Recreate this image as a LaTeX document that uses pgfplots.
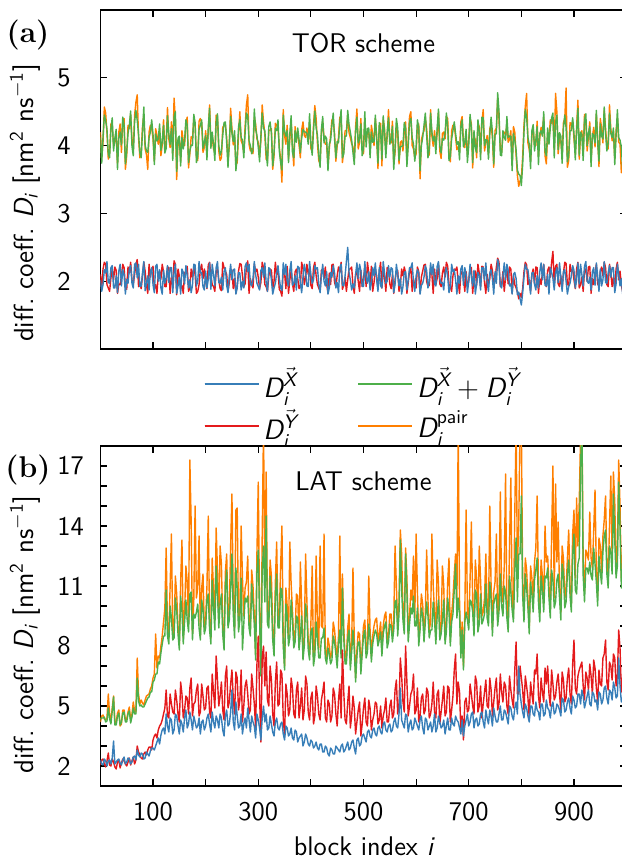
\documentclass[border=0pt]{standalone}
\usepackage{fontspec}
\usepackage{amsmath}
\usepackage{pgfplots}
\pgfplotsset{compat=1.18}
\usepackage{pgfplotstable}
\renewcommand{\familydefault}{\sfdefault}
\definecolor{cX}{HTML}{377EB8}
\definecolor{cY}{HTML}{E41A1C}
\definecolor{cS}{HTML}{4DAF4A}
\definecolor{cP}{HTML}{FF7F00}
\newcommand{\si}[1]{\text{\sffamily\itshape #1}}
\newcommand{\fs}{\fontsize{13.5}{16}\selectfont\sffamily}
\newcommand{\fl}{\fontsize{13.8}{16.5}\selectfont\sffamily}
\newcommand{\fg}{\fontsize{14}{17}\selectfont\sffamily}
\newcommand{\fb}{\fontsize{15}{18}\selectfont\rmfamily\bfseries}

\pgfplotstableread{
x X Y S P
0 2.02 2.10 4.12 4.20
2.5 1.85 1.89 3.74 3.82
5 1.95 2.18 4.13 4.05
7.5 2.17 2.28 4.45 4.57
10 2.12 2.25 4.37 4.48
12.5 2.29 1.95 4.24 4.19
15 1.98 1.90 3.88 3.80
17.5 1.97 1.85 3.82 3.90
20 2.20 2.05 4.25 4.32
22.5 2.23 2.18 4.41 4.29
25 1.90 2.02 3.92 4.00
27.5 1.90 2.21 4.11 4.06
30 2.08 2.16 4.24 4.15
32.5 1.83 1.82 3.65 3.73
35 2.15 1.96 4.11 4.20
37.5 2.25 1.95 4.20 4.32
40 1.93 2.08 4.01 3.90
42.5 2.17 2.25 4.42 4.37
45 2.10 2.20 4.30 4.40
47.5 1.81 1.92 3.73 3.65
50 2.03 1.88 3.91 3.85
52.5 1.97 2.21 4.18 4.30
55 2.18 2.12 4.30 4.25
57.5 2.23 2.28 4.51 4.46
60 1.97 2.02 3.99 4.08
62.5 1.90 1.95 3.85 3.93
65 2.25 2.10 4.35 4.45
67.5 2.27 2.25 4.52 4.64
70 2.05 2.32 4.37 4.75
72.5 2.25 1.92 4.17 4.12
75 1.92 1.98 3.90 3.82
77.5 1.93 1.89 3.82 3.90
80 2.12 2.08 4.20 4.28
82.5 2.29 2.28 4.57 4.45
85 1.86 2.15 4.01 3.95
87.5 1.97 1.95 3.92 3.87
90 2.08 1.82 3.90 3.65
92.5 1.87 2.25 4.12 4.20
95 2.14 2.06 4.20 4.30
97.5 2.20 2.18 4.38 4.26
100 1.95 2.22 4.17 4.10
102.5 1.83 1.89 3.72 3.77
105 2.22 1.95 4.17 4.25
107.5 2.25 1.82 4.07 4.15
110 2.00 2.10 4.10 4.02
112.5 2.17 2.15 4.32 4.20
115 1.90 2.03 3.93 3.85
117.5 1.81 2.25 4.06 4.01
120 2.16 2.14 4.30 4.38
122.5 1.97 1.92 3.89 3.97
125 2.04 1.92 3.96 4.05
127.5 2.23 2.21 4.44 4.56
130 1.98 2.20 4.18 4.10
132.5 2.20 1.82 4.02 3.97
135 2.20 2.05 4.25 4.35
137.5 1.83 1.95 3.78 3.86
140 2.12 2.30 4.42 4.70
142.5 2.25 2.25 4.50 4.38
145 1.82 1.80 3.62 3.50
147.5 1.93 2.18 4.11 4.06
150 2.06 2.08 4.14 4.08
152.5 1.81 1.89 3.70 3.78
155 2.18 1.94 4.12 4.22
157.5 2.13 1.82 3.95 4.07
160 1.96 2.12 4.08 4.00
162.5 2.23 2.15 4.38 4.33
165 2.08 2.22 4.30 4.42
167.5 1.90 1.85 3.75 3.67
170 2.02 1.90 3.92 3.88
172.5 1.83 2.18 4.01 4.13
175 1.94 2.06 4.00 4.10
177.5 2.25 2.21 4.46 4.41
180 2.24 2.10 4.34 4.30
182.5 1.93 1.82 3.75 3.83
185 2.00 1.85 3.85 3.78
187.5 2.29 1.95 4.24 4.36
190 2.12 2.18 4.30 4.40
192.5 2.13 2.25 4.38 4.33
195 1.92 2.04 3.96 3.90
197.5 1.87 2.18 4.05 3.97
200 2.15 2.00 4.15 4.22
202.5 1.90 1.89 3.79 3.91
205 2.03 2.24 4.27 4.20
207.5 2.27 2.28 4.55 4.60
210 1.88 2.08 3.96 4.05
212.5 2.25 1.95 4.20 4.12
215 2.10 1.92 4.02 3.95
217.5 1.93 1.85 3.78 3.90
220 2.20 2.14 4.34 4.45
222.5 2.29 2.18 4.47 4.42
225 1.98 2.02 4.00 3.92
227.5 1.97 1.89 3.86 3.78
230 2.06 1.86 3.92 3.82
232.5 1.87 2.28 4.15 4.27
235 2.14 2.20 4.34 4.30
237.5 2.20 2.15 4.35 4.30
240 1.94 2.10 4.04 4.12
242.5 1.83 1.85 3.68 3.76
245 2.08 1.98 4.06 4.00
247.5 2.25 2.18 4.43 4.55
250 2.02 2.16 4.18 4.25
252.5 2.17 1.89 4.06 4.01
255 2.18 2.04 4.22 4.15
257.5 1.81 1.82 3.63 3.71
260 1.90 1.94 3.84 3.75
262.5 2.13 2.15 4.28 4.16
265 2.12 2.26 4.38 4.50
267.5 1.87 2.25 4.12 4.07
270 2.00 2.08 4.08 4.02
272.5 1.90 1.92 3.82 3.90
275 2.22 1.96 4.18 4.28
277.5 2.27 2.21 4.48 4.60
280 2.14 2.30 4.44 4.75
282.5 2.25 1.82 4.07 4.02
285 1.96 2.04 4.00 3.92
287.5 1.93 1.95 3.88 3.96
290 2.04 1.90 3.94 3.88
292.5 2.29 2.25 4.54 4.42
295 2.10 2.14 4.24 4.32
297.5 1.97 2.18 4.15 4.10
300 1.92 2.06 3.98 4.05
302.5 1.87 1.89 3.76 3.84
305 2.16 1.98 4.14 4.08
307.5 2.20 2.28 4.48 4.60
310 2.06 2.20 4.26 4.35
312.5 2.27 1.95 4.22 4.17
315 1.98 1.92 3.90 3.80
317.5 1.85 1.85 3.70 3.78
320 2.20 2.08 4.28 4.22
322.5 2.17 2.18 4.35 4.23
325 2.02 2.16 4.18 4.25
327.5 1.81 1.89 3.70 3.65
330 1.90 2.00 3.90 3.85
332.5 1.97 2.28 4.25 4.33
335 2.12 2.10 4.22 4.30
337.5 2.23 2.15 4.38 4.26
340 2.04 1.88 3.92 3.98
342.5 1.90 1.85 3.75 3.80
345 1.86 1.78 3.64 3.46
347.5 2.27 2.18 4.45 4.53
350 2.10 2.12 4.22 4.15
352.5 2.25 1.89 4.14 4.02
355 2.00 2.22 4.22 4.30
357.5 1.93 1.82 3.75 3.80
360 2.16 2.02 4.18 4.10
362.5 2.29 2.15 4.44 4.36
365 1.94 1.96 3.90 3.98
367.5 1.97 1.85 3.82 3.70
370 2.08 2.14 4.22 4.28
372.5 1.87 2.18 4.05 4.10
375 2.22 2.04 4.26 4.20
377.5 2.20 1.89 4.09 4.01
380 1.98 1.92 3.90 3.82
382.5 1.83 2.28 4.11 4.23
385 2.06 2.18 4.24 4.35
387.5 2.25 1.95 4.20 4.15
390 2.14 2.06 4.20 4.12
392.5 1.93 2.25 4.18 4.26
395 1.92 2.10 4.02 4.08
397.5 2.29 2.18 4.47 4.35
400 2.10 1.94 4.04 3.96
402.5 1.97 1.89 3.86 3.91
405 2.02 2.20 4.22 4.30
407.5 2.23 2.28 4.51 4.59
410 2.18 2.08 4.26 4.40
412.5 2.20 1.95 4.15 4.03
415 1.96 1.90 3.86 3.78
417.5 1.83 1.85 3.68 3.73
420 2.08 2.16 4.24 4.18
422.5 2.25 2.18 4.43 4.35
425 2.00 2.04 4.04 4.12
427.5 1.93 2.21 4.14 4.02
430 2.14 1.96 4.10 4.02
432.5 1.81 1.82 3.63 3.68
435 1.90 2.12 4.02 3.95
437.5 2.13 1.95 4.08 4.16
440 2.06 2.24 4.30 4.38
442.5 2.23 2.25 4.48 4.36
445 2.12 1.98 4.10 4.18
447.5 1.90 1.92 3.82 3.77
450 1.98 2.08 4.06 4.00
452.5 1.83 2.21 4.04 4.12
455 2.20 2.14 4.34 4.42
457.5 2.25 2.28 4.53 4.41
460 1.94 1.88 3.82 3.75
462.5 1.93 1.95 3.88 3.93
465 2.08 2.06 4.14 4.22
467.5 2.29 1.85 4.14 4.22
470 2.50 2.02 4.52 4.45
472.5 2.13 2.18 4.31 4.19
475 2.02 2.18 4.20 4.12
477.5 1.87 2.21 4.08 4.03
480 1.96 1.94 3.90 3.98
482.5 1.90 1.82 3.72 3.80
485 2.10 2.10 4.20 4.28
487.5 2.27 2.15 4.42 4.54
490 2.04 2.00 4.04 3.95
492.5 2.25 1.85 4.10 4.05
495 2.16 2.16 4.32 4.40
497.5 1.93 1.92 3.85 3.93
500 1.92 2.04 3.96 3.88
502.5 2.29 2.21 4.50 4.38
505 2.06 1.92 3.98 4.06
507.5 1.97 2.28 4.25 4.20
510 2.14 2.12 4.26 4.20
512.5 1.87 1.95 3.82 3.90
515 1.98 2.22 4.20 4.30
517.5 2.20 1.85 4.05 4.17
520 2.08 1.98 4.06 4.00
522.5 2.27 2.18 4.45 4.40
525 2.02 2.08 4.10 4.15
527.5 1.85 1.89 3.74 3.66
530 2.20 2.14 4.34 4.28
532.5 1.93 2.28 4.21 4.33
535 1.90 1.90 3.80 3.70
537.5 2.29 2.15 4.44 4.39
540 2.12 2.06 4.18 4.25
542.5 1.97 1.85 3.82 3.90
545 2.00 2.20 4.20 4.12
547.5 2.23 2.18 4.41 4.53
550 2.06 1.96 4.02 4.10
552.5 2.20 1.89 4.09 4.04
555 2.18 2.10 4.28 4.36
557.5 1.83 1.82 3.65 3.73
560 1.96 2.02 3.98 3.90
562.5 2.25 2.15 4.40 4.28
565 2.10 2.16 4.26 4.20
567.5 1.93 1.85 3.78 3.73
570 2.04 1.94 3.98 4.05
572.5 1.81 2.18 3.99 4.07
575 1.92 2.08 4.00 3.92
577.5 2.13 2.21 4.34 4.22
580 2.14 2.12 4.26 4.35
582.5 1.87 1.82 3.69 3.74
585 2.02 1.98 4.00 4.08
587.5 2.20 2.15 4.35 4.43
590 2.20 2.20 4.40 4.50
592.5 2.27 1.85 4.12 4.00
595 1.98 2.04 4.02 3.95
597.5 1.85 1.92 3.77 3.82
600 2.08 1.90 3.98 3.88
602.5 2.17 2.21 4.38 4.30
605 2.12 2.14 4.26 4.32
607.5 1.81 1.82 3.63 3.51
610 1.94 2.06 4.00 4.08
612.5 1.97 2.15 4.12 4.17
615 2.06 2.24 4.30 4.22
617.5 2.23 2.25 4.48 4.40
620 2.16 2.00 4.16 4.25
622.5 1.90 1.92 3.82 3.94
625 2.00 1.94 3.94 3.86
627.5 2.27 2.21 4.48 4.53
630 2.10 2.10 4.20 4.14
632.5 2.25 1.82 4.07 3.99
635 1.96 2.18 4.14 4.22
637.5 1.93 1.95 3.88 4.00
640 2.22 2.04 4.26 4.18
642.5 2.29 2.25 4.54 4.49
645 2.04 1.96 4.00 3.92
647.5 1.97 1.92 3.89 3.81
650 1.98 2.12 4.10 4.18
652.5 1.87 2.21 4.08 4.20
655 2.12 2.06 4.18 4.10
657.5 2.20 2.28 4.48 4.43
660 2.06 2.22 4.28 4.40
662.5 1.83 1.95 3.78 3.86
665 1.92 1.92 3.84 3.76
667.5 2.25 1.85 4.10 4.22
670 2.14 2.08 4.22 4.30
672.5 2.17 2.18 4.35 4.30
675 2.02 2.16 4.18 4.12
677.5 1.81 2.21 4.02 3.94
680 2.08 1.98 4.06 3.98
682.5 1.97 1.82 3.79 3.91
685 2.18 2.10 4.28 4.35
687.5 2.23 2.15 4.38 4.43
690 1.94 2.04 3.98 4.05
692.5 2.20 1.85 4.05 3.97
695 2.10 2.14 4.24 4.18
697.5 1.83 1.92 3.75 3.87
700 2.00 2.00 4.00 4.08
702.5 2.25 2.21 4.46 4.41
705 2.06 2.20 4.26 4.32
707.5 1.93 1.82 3.75 3.67
710 2.16 2.06 4.22 4.15
712.5 1.81 2.15 3.96 4.08
715 1.96 1.94 3.90 3.82
717.5 2.13 2.25 4.38 4.33
720 2.08 2.12 4.20 4.28
722.5 1.87 1.92 3.79 3.87
725 2.20 2.22 4.42 4.35
727.5 2.20 2.21 4.41 4.53
730 2.02 1.98 4.00 3.92
732.5 2.27 1.82 4.09 4.04
735 1.98 2.10 4.08 4.15
737.5 1.85 1.95 3.80 3.88
740 2.12 2.04 4.16 4.25
742.5 2.17 2.25 4.42 4.30
745 2.04 2.16 4.20 4.12
747.5 1.81 1.92 3.73 3.68
750 2.14 2.02 4.16 4.22
752.5 1.97 2.21 4.18 4.26
755 2.32 2.34 4.78 4.70
757.5 2.23 2.28 4.51 4.39
760 1.94 1.92 3.86 3.95
762.5 1.90 1.95 3.85 3.90
765 2.08 2.14 4.22 4.15
767.5 2.27 1.85 4.12 4.20
770 2.02 2.06 4.08 4.16
772.5 2.25 2.18 4.43 4.31
775 2.16 1.96 4.12 4.05
777.5 1.93 2.21 4.14 4.09
780 1.96 2.18 4.14 4.22
782.5 1.81 1.82 3.63 3.71
785 2.10 2.08 4.18 4.28
787.5 2.13 1.95 4.08 4.20
790 2.04 1.90 3.94 3.86
792.5 1.80 1.84 3.64 3.56
795 1.84 1.74 3.58 3.40
797.5 1.74 1.82 3.56 3.48
800 1.65 1.76 3.41 3.52
802.5 1.83 1.89 3.72 3.84
805 2.06 2.14 4.20 4.30
807.5 2.25 2.28 4.53 4.58
810 2.18 2.24 4.42 4.77
812.5 2.17 1.95 4.12 4.04
815 2.00 2.02 4.02 3.94
817.5 1.81 1.85 3.66 3.78
820 2.12 2.10 4.22 4.14
822.5 2.13 2.18 4.31 4.26
825 1.96 1.96 3.92 4.00
827.5 1.87 2.21 4.08 4.00
830 2.08 2.20 4.28 4.36
832.5 1.90 1.82 3.72 3.84
835 2.14 2.04 4.18 4.12
837.5 2.27 1.95 4.22 4.27
840 2.02 2.12 4.14 4.22
842.5 2.25 2.25 4.50 4.42
845 1.94 1.98 3.92 3.85
847.5 1.93 1.92 3.85 3.73
850 2.10 2.16 4.26 4.20
852.5 1.81 2.21 4.02 4.07
855 2.20 2.06 4.26 4.38
857.5 2.13 2.28 4.41 4.33
860 2.04 2.44 4.48 4.40
862.5 1.87 1.95 3.82 3.94
865 2.12 2.22 4.34 4.77
867.5 2.20 2.25 4.45 4.50
870 1.98 1.96 3.94 3.88
872.5 2.27 1.92 4.19 4.11
875 2.06 2.08 4.14 4.06
877.5 1.85 1.89 3.74 3.86
880 2.14 2.12 4.26 4.34
882.5 2.17 2.28 4.45 4.40
885 2.00 2.26 4.26 4.85
887.5 1.81 1.95 3.76 3.68
890 1.92 1.94 3.86 3.78
892.5 1.97 2.25 4.22 4.34
895 2.08 2.14 4.22 4.30
897.5 2.23 2.18 4.41 4.36
900 2.16 2.02 4.18 4.10
902.5 1.90 1.89 3.79 3.87
905 2.02 2.18 4.20 4.28
907.5 2.27 2.28 4.55 4.67
910 1.96 1.90 3.86 3.80
912.5 2.25 1.95 4.20 4.15
915 2.10 2.06 4.16 4.22
917.5 1.93 1.85 3.78 3.86
920 2.22 2.16 4.38 4.46
922.5 2.29 2.18 4.47 4.35
925 2.00 2.00 4.00 3.92
927.5 1.97 2.21 4.18 4.13
930 2.06 2.22 4.28 4.35
932.5 1.87 1.82 3.69 3.77
935 2.14 2.04 4.18 4.12
937.5 2.20 1.95 4.15 4.27
940 1.94 2.10 4.04 3.98
942.5 2.27 2.25 4.52 4.47
945 2.08 1.96 4.04 4.12
947.5 1.85 1.92 3.77 3.69
950 2.18 2.14 4.32 4.40
952.5 1.93 2.21 4.14 4.26
955 2.02 2.08 4.10 4.04
957.5 2.29 2.28 4.57 4.52
960 1.98 2.20 4.18 4.26
962.5 1.97 1.95 3.92 4.00
965 2.12 1.92 4.04 3.95
967.5 2.23 2.25 4.48 4.60
970 2.06 2.12 4.18 4.25
972.5 2.20 1.92 4.12 4.07
975 2.20 2.06 4.26 4.20
977.5 1.83 1.89 3.72 3.80
980 1.96 2.18 4.14 4.22
982.5 2.25 2.28 4.53 4.41
985 2.10 2.02 4.12 4.05
987.5 1.93 2.15 4.08 4.03
990 2.04 1.94 3.98 3.60
992.5 1.81 1.85 3.66 3.74
995 2.14 2.14 4.28 4.36
997.5 2.13 1.92 4.05 4.17
1000 2.00 2.10 4.10 3.70
}\tabA

\pgfplotstableread{
x X Y S P
0 2.30 2.05 4.35 4.20
2.5 2.10 2.30 4.40 4.50
5 2.05 2.35 4.40 4.55
7.5 2.35 2.10 4.45 4.35
10 2.25 1.95 4.20 4.30
12.5 2.00 2.25 4.25 4.40
15 2.25 2.65 4.90 5.60
17.5 2.30 2.05 4.35 4.60
20 2.10 2.00 4.10 4.25
22.5 2.40 2.35 4.75 4.90
25 3.25 2.20 5.45 5.50
27.5 2.10 1.95 4.05 4.20
30 2.20 1.85 4.05 4.15
32.5 2.30 2.20 4.50 4.65
35 2.35 2.30 4.65 4.80
37.5 2.15 1.90 4.05 4.00
40 2.05 2.15 4.20 4.10
42.5 2.30 2.35 4.65 4.80
45 2.45 2.25 4.70 4.80
47.5 2.10 2.10 4.20 4.30
50 2.20 2.00 4.20 4.35
52.5 2.40 2.20 4.60 4.70
55 2.35 2.40 4.75 4.95
57.5 2.10 2.05 4.15 4.30
60 2.20 2.25 4.45 4.60
62.5 2.45 2.45 4.90 5.20
65 2.50 2.10 4.60 4.75
67.5 2.30 2.30 4.60 4.70
70 2.80 3.00 6.40 7.40
72.5 2.55 2.70 5.25 5.60
75 2.45 2.55 5.00 5.10
77.5 2.65 2.40 5.05 5.30
80 2.60 2.35 4.95 5.15
82.5 2.35 2.60 4.95 5.05
85 2.40 2.70 5.10 5.30
87.5 2.70 2.55 5.25 5.50
90 2.60 2.80 5.40 5.55
92.5 2.50 2.95 5.45 5.60
95 2.75 2.95 5.70 5.85
97.5 2.90 2.80 5.70 6.00
100 2.90 3.30 6.20 6.40
102.5 2.80 3.50 6.30 6.60
105 3.00 3.60 6.60 8.60
107.5 3.20 3.40 6.60 6.90
110 3.40 3.80 7.20 7.50
112.5 3.10 4.00 7.10 7.40
115 3.55 4.10 7.65 8.00
117.5 3.80 4.30 8.10 8.50
120 3.90 4.60 8.50 9.20
122.5 3.60 4.90 8.50 9.90
125 4.60 5.80 10.80 12.90
127.5 4.00 4.50 8.50 8.90
130 3.70 4.40 8.10 8.40
132.5 4.40 5.60 10.00 11.00
135 4.30 5.10 9.40 13.60
137.5 3.60 4.70 8.30 8.60
140 3.80 4.60 8.40 8.70
142.5 4.60 5.80 10.40 11.50
145 4.50 5.30 9.80 10.60
147.5 4.00 4.60 8.60 9.00
150 3.60 4.20 7.80 8.10
152.5 4.30 6.20 10.50 11.20
155 4.10 5.60 9.70 13.30
157.5 3.70 4.40 8.10 8.40
160 4.40 4.80 9.20 9.60
162.5 4.80 5.50 10.30 12.00
165 3.90 5.40 9.30 11.20
167.5 4.10 4.60 8.70 9.10
170 4.70 5.90 10.60 17.30
172.5 4.30 6.40 10.70 14.20
175 3.80 4.50 8.30 8.60
177.5 4.50 5.10 9.60 10.30
180 4.20 5.20 9.40 15.00
182.5 3.90 5.80 9.70 10.40
185 4.00 6.10 10.10 10.90
187.5 4.40 4.50 8.90 13.50
190 3.60 4.70 8.30 8.50
192.5 4.20 6.10 10.30 10.90
195 4.30 5.50 9.80 11.60
197.5 3.80 4.80 8.60 8.90
200 4.00 4.90 8.90 9.30
202.5 4.40 5.90 10.30 11.00
205 4.60 6.00 10.60 14.50
207.5 4.10 4.70 8.80 9.20
210 3.70 4.40 8.10 8.40
212.5 4.70 6.60 11.30 12.40
215 4.20 5.70 9.90 10.80
217.5 3.90 4.90 8.80 9.30
220 4.50 7.50 12.00 13.90
222.5 4.30 6.30 10.60 11.80
225 3.90 5.00 8.90 9.20
227.5 4.60 5.50 10.10 13.00
230 4.40 6.20 10.60 12.10
232.5 3.80 4.80 8.60 9.00
235 3.50 4.30 7.80 8.00
237.5 4.50 6.50 11.00 11.70
240 4.80 7.00 11.80 12.60
242.5 4.00 4.90 8.90 9.30
245 4.10 5.20 9.30 9.80
247.5 4.70 6.10 10.80 13.00
250 5.80 6.80 12.60 15.60
252.5 4.20 5.40 9.60 10.20
255 3.80 4.60 8.40 8.90
257.5 5.20 6.70 11.90 14.80
260 4.50 6.40 10.90 14.90
262.5 3.90 4.80 8.70 9.10
265 4.00 5.30 9.30 9.70
267.5 4.60 6.80 11.40 14.00
270 3.60 4.20 7.80 11.40
272.5 4.10 5.00 9.10 9.50
275 4.40 6.00 10.40 10.90
277.5 3.90 6.30 10.20 11.20
280 4.90 5.60 10.50 12.50
282.5 4.30 4.60 8.90 9.30
285 3.70 4.80 8.50 8.80
287.5 4.50 6.60 11.10 11.80
290 4.20 5.90 10.10 11.00
292.5 4.00 5.10 9.10 9.50
295 3.40 3.90 7.30 7.60
297.5 4.60 7.10 11.70 12.70
300 4.30 8.50 12.80 16.20
302.5 3.90 5.50 9.40 9.80
305 3.30 3.20 6.50 6.80
307.5 4.40 7.40 11.80 13.50
310 5.00 8.00 13.00 19.00
312.5 4.20 6.00 10.20 11.00
315 4.60 7.70 14.50 16.70
317.5 3.80 5.30 9.10 9.60
320 3.90 5.00 8.90 9.30
322.5 4.50 7.00 11.50 12.30
325 4.10 6.30 10.40 11.50
327.5 3.70 4.60 8.30 8.70
330 3.50 4.00 7.50 7.80
332.5 4.20 6.20 10.40 11.20
335 4.40 7.20 11.60 13.20
337.5 3.90 5.00 8.90 9.30
340 3.80 5.10 8.90 9.40
342.5 4.10 6.80 10.90 12.00
345 4.20 6.60 10.80 14.00
347.5 3.60 4.40 8.00 8.30
350 3.30 3.50 6.80 7.00
352.5 4.00 6.10 10.10 10.90
355 3.90 5.60 9.50 10.00
357.5 3.50 4.50 8.00 8.40
360 3.60 4.80 8.40 13.20
362.5 3.90 6.40 10.30 11.10
365 3.40 5.90 9.30 9.80
367.5 3.30 4.60 7.90 8.20
370 3.80 4.40 8.20 8.60
372.5 3.70 5.80 9.50 10.60
375 3.20 6.20 9.40 10.50
377.5 3.40 4.40 7.80 8.10
380 3.50 5.00 8.50 12.20
382.5 3.60 5.90 9.50 10.00
385 3.00 4.30 7.30 7.60
387.5 3.20 4.80 8.00 8.40
390 3.60 6.50 10.10 12.60
392.5 3.40 6.10 9.50 10.20
395 3.10 4.70 7.80 8.20
397.5 3.00 4.30 7.30 7.60
400 3.30 5.40 8.70 9.10
402.5 3.20 5.70 8.90 12.00
405 2.90 4.10 7.00 7.30
407.5 3.00 4.50 7.50 7.90
410 3.20 6.00 9.20 12.50
412.5 2.90 5.50 8.40 9.00
415 2.80 4.60 7.40 7.80
417.5 3.10 4.30 7.40 13.00
420 3.10 5.30 8.40 9.00
422.5 2.70 5.70 8.40 8.90
425 2.70 6.20 8.90 13.60
427.5 3.00 4.40 7.40 7.70
430 2.90 4.20 7.10 7.40
432.5 2.60 5.30 7.90 8.40
435 2.50 5.10 7.60 8.00
437.5 2.90 4.20 7.10 7.40
440 2.80 4.50 7.30 7.70
442.5 2.60 5.90 8.50 9.20
445 2.60 5.60 8.20 8.80
447.5 3.00 4.60 7.60 8.00
450 2.90 4.00 6.90 7.30
452.5 2.80 5.30 8.10 8.50
455 2.70 6.10 8.80 13.50
457.5 3.00 4.40 7.40 7.70
460 3.10 7.80 10.90 11.60
462.5 2.70 5.70 8.40 8.90
465 2.80 4.30 7.10 7.50
467.5 3.00 4.10 7.10 7.40
470 3.20 5.20 8.40 8.90
472.5 2.80 6.00 8.80 9.60
475 2.90 3.90 6.80 7.10
477.5 3.20 4.50 7.70 8.10
480 3.30 5.50 8.80 11.90
482.5 2.90 4.90 7.80 8.30
485 2.60 3.60 6.20 6.40
487.5 3.30 4.20 7.50 7.80
490 3.40 4.80 8.20 8.70
492.5 3.00 5.20 8.20 8.60
495 3.10 3.50 6.60 6.90
497.5 3.50 4.10 7.60 7.90
500 3.60 4.90 8.50 9.00
502.5 3.40 5.40 8.80 9.30
505 3.20 4.20 7.40 7.80
507.5 3.70 4.00 7.70 8.00
510 3.80 5.30 9.10 11.50
512.5 3.50 4.90 8.40 8.80
515 3.40 3.80 7.20 7.50
517.5 3.80 4.30 8.10 8.50
520 3.90 4.60 8.50 9.00
522.5 3.60 5.20 8.80 9.30
525 3.50 5.10 8.60 9.40
527.5 3.90 4.10 8.00 8.30
530 4.00 4.30 8.30 8.60
532.5 3.70 5.00 8.70 9.20
535 3.60 3.90 7.50 7.80
537.5 4.10 4.50 8.60 9.00
540 4.20 4.80 9.00 9.50
542.5 3.80 5.40 9.20 9.70
545 3.70 4.20 7.90 8.30
547.5 4.00 4.20 8.20 8.50
550 4.10 5.00 9.10 9.60
552.5 3.70 5.30 9.00 9.60
555 3.80 4.40 8.20 8.50
557.5 4.20 4.60 8.80 9.20
560 4.40 5.80 10.20 13.00
562.5 4.00 6.30 10.30 11.00
565 3.90 4.60 8.50 9.00
567.5 4.60 5.00 9.60 10.20
570 5.90 7.40 13.30 13.80
572.5 4.30 6.50 10.80 12.60
575 4.10 5.20 9.30 9.80
577.5 3.90 4.70 8.60 9.00
580 4.60 8.00 12.60 12.90
582.5 4.50 6.20 10.70 11.40
585 3.70 4.50 8.20 8.60
587.5 4.10 5.00 9.10 9.50
590 4.30 5.60 9.90 10.80
592.5 3.80 5.80 9.60 10.30
595 3.90 6.60 10.50 12.50
597.5 4.40 4.60 9.00 9.40
600 4.20 4.80 9.00 13.60
602.5 4.00 5.90 9.90 10.70
605 3.80 4.20 8.00 8.40
607.5 4.30 4.50 8.80 9.20
610 4.50 5.40 9.90 10.60
612.5 3.90 5.60 9.50 10.10
615 3.60 4.60 8.20 8.50
617.5 4.40 4.80 9.20 9.60
620 4.30 5.90 10.20 12.80
622.5 3.80 5.70 9.50 10.30
625 4.00 4.40 8.40 8.80
627.5 4.20 4.60 8.80 9.20
630 3.70 5.10 8.80 13.60
632.5 4.00 6.20 10.20 11.00
635 4.60 4.70 9.30 9.70
637.5 3.70 4.40 8.10 8.50
640 3.90 5.60 9.50 12.30
642.5 4.50 5.80 10.30 11.10
645 4.20 4.10 8.30 8.60
647.5 3.90 4.70 8.60 9.00
650 4.00 5.30 9.30 12.00
652.5 4.30 6.00 10.30 11.00
655 3.60 4.50 8.10 8.40
657.5 4.00 4.70 8.70 9.10
660 4.40 6.00 10.40 11.20
662.5 3.80 5.90 9.70 12.40
665 3.80 4.20 8.00 8.30
667.5 4.40 4.80 9.20 9.60
670 4.10 5.50 9.60 10.40
672.5 4.00 6.80 10.80 11.60
675 4.50 7.60 12.10 12.60
677.5 4.30 5.10 9.40 10.00
680 4.20 6.20 10.40 19.00
682.5 3.90 5.70 9.60 10.30
685 3.60 3.80 7.40 7.70
687.5 4.30 4.50 8.80 9.20
690 3.50 3.30 6.80 7.00
692.5 4.00 5.20 9.20 9.60
695 4.30 5.40 9.70 14.80
697.5 4.60 4.70 9.30 9.80
700 4.00 4.80 8.80 9.20
702.5 4.20 6.10 10.30 11.30
705 4.60 5.60 10.20 14.20
707.5 4.70 5.00 9.70 10.20
710 3.90 4.60 8.50 8.90
712.5 4.30 6.50 10.80 12.30
715 4.40 6.20 10.60 11.40
717.5 4.00 4.70 8.70 9.10
720 4.10 5.00 9.10 13.00
722.5 4.60 6.00 10.60 11.30
725 4.70 4.40 9.10 9.50
727.5 4.20 5.10 9.30 9.70
730 3.90 5.70 9.60 10.40
732.5 4.80 6.30 11.10 12.60
735 4.40 5.00 9.40 9.90
737.5 4.10 4.90 9.00 9.40
740 4.80 6.40 11.20 15.00
742.5 4.50 5.80 10.30 11.00
745 4.00 4.50 8.50 8.90
747.5 4.90 5.20 10.10 10.70
750 4.50 5.90 10.40 11.20
752.5 4.20 6.40 10.60 13.60
755 4.20 4.80 9.00 9.40
757.5 4.60 5.10 9.70 10.20
760 5.00 6.60 11.60 15.70
762.5 4.30 5.70 10.00 10.70
765 4.30 5.20 9.50 10.20
767.5 4.80 6.20 11.00 12.00
770 4.70 6.00 10.70 16.60
772.5 4.40 5.00 9.40 9.80
775 4.10 4.60 8.70 9.10
777.5 5.00 6.50 11.50 13.00
780 4.90 5.80 10.70 16.40
782.5 4.50 5.30 9.80 10.30
785 4.30 4.90 9.20 9.60
787.5 4.90 6.80 11.70 14.60
790 5.20 8.20 13.40 19.00
792.5 4.60 5.60 10.20 12.00
795 7.00 5.60 12.60 14.00
797.5 5.60 7.00 12.60 19.00
800 5.10 6.40 15.50 19.00
802.5 4.70 5.80 10.50 11.20
805 4.40 4.80 9.20 9.60
807.5 5.10 6.50 11.60 12.40
810 4.90 6.00 10.90 11.80
812.5 4.50 5.40 9.90 10.40
815 4.20 4.40 8.60 8.90
817.5 5.00 6.20 11.20 12.00
820 5.00 5.60 10.60 11.40
822.5 4.60 5.10 9.70 10.20
825 4.50 6.80 11.30 12.20
827.5 5.20 6.60 11.80 12.90
830 4.80 7.60 12.40 15.50
832.5 4.70 5.50 10.20 10.90
835 4.30 4.90 9.20 9.60
837.5 5.10 6.40 11.50 12.30
840 5.10 5.70 10.80 11.50
842.5 4.50 5.20 9.70 10.10
845 4.60 6.90 11.50 14.00
847.5 5.30 6.10 11.40 12.20
850 4.90 7.00 11.90 12.50
852.5 4.80 5.60 10.40 11.00
855 4.40 5.00 9.40 9.80
857.5 5.00 6.80 11.80 13.50
860 5.20 6.10 11.30 17.00
862.5 4.60 5.30 9.90 10.40
865 4.70 5.50 10.20 16.10
867.5 5.10 6.20 11.30 12.20
870 5.00 6.60 11.60 14.20
872.5 4.80 5.60 10.40 10.90
875 4.50 4.80 9.30 9.70
877.5 5.40 6.70 12.10 13.00
880 5.30 6.30 11.60 12.40
882.5 4.70 5.20 9.90 10.40
885 4.80 5.40 10.20 10.80
887.5 5.20 6.40 11.60 12.40
890 5.40 6.90 12.30 13.80
892.5 4.90 5.60 10.50 11.00
895 4.60 5.10 9.70 10.10
897.5 5.50 7.10 12.60 13.60
900 5.30 8.30 13.60 14.80
902.5 4.90 5.90 10.80 11.40
905 5.00 5.60 10.60 15.40
907.5 5.60 6.50 12.10 13.00
910 5.60 6.80 12.40 15.20
912.5 5.10 7.00 17.00 18.50
915 5.80 7.20 19.00 19.50
917.5 5.50 6.00 11.50 12.20
920 4.90 5.30 10.20 10.70
922.5 5.20 6.70 11.90 12.80
925 5.50 6.40 11.90 12.60
927.5 5.80 5.80 11.60 12.30
930 5.10 7.10 12.20 14.70
932.5 5.00 6.50 11.50 12.40
935 5.70 5.60 11.30 11.90
937.5 5.60 7.30 12.90 13.80
940 5.20 6.90 12.10 15.80
942.5 5.30 5.90 11.20 11.80
945 4.80 5.20 10.00 10.50
947.5 5.70 6.80 12.50 13.40
950 5.60 6.10 11.70 13.00
952.5 5.10 6.00 11.10 11.70
955 5.30 7.40 12.70 13.50
957.5 5.90 7.60 13.50 14.30
960 6.00 8.30 13.80 15.50
962.5 5.40 6.20 11.60 12.20
965 5.10 5.80 10.90 11.40
967.5 5.80 7.20 13.00 14.00
970 5.70 7.00 12.70 16.50
972.5 5.30 6.30 11.60 12.30
975 6.20 7.60 15.60 16.70
977.5 5.90 7.40 13.30 15.20
980 5.40 6.00 11.40 12.00
982.5 5.50 6.50 12.00 12.80
985 7.40 8.80 16.20 17.30
987.5 6.00 7.90 13.90 15.00
990 5.20 5.70 10.90 11.40
992.5 5.40 6.40 11.80 12.50
995 6.20 7.00 13.20 14.00
997.5 6.40 7.20 13.60 14.60
1000 5.60 6.40 12.00 12.50
}\tabB

\pgfplotsset{
  myaxis/.style={
    scale only axis, width=263.1pt, xmin=0, xmax=1000,
    clip mode=individual,
    axis line style={line width=0.6pt},
    every tick/.style={black, line width=0.6pt},
    major tick length=3.5pt, minor tick length=3.5pt,
    xtick={100,200,...,900},
    /pgf/number format/assume math mode=true,
    ticklabel style={font=\fs, inner sep=0pt},
    yticklabel style={anchor=west, xshift=-21.7pt},
    xticklabel style={anchor=north, yshift=-7.8pt},
    every axis x label/.style={at={(axis description cs:0.5,0)}, anchor=north, yshift=-25pt, inner sep=0pt, font=\fs},
    ylabel={diff.\ coeff.\ \si{D}$_{\si{i}}$ [nm\textsuperscript{2} ns\textsuperscript{$-$1}]},
    every axis plot/.append style={line width=0.7pt, line join=round},
  }
}

\begin{document}
\begin{tikzpicture}
\useasboundingbox (-50.2pt,-36pt) rectangle (260.8pt,393pt);
\begin{axis}[myaxis, at={(0,218.5pt)}, height=169.5pt, ymin=1, ymax=6,
  ytick={2,3,4,5}, xticklabels={},
  every axis y label/.style={at={(axis description cs:-0.1433,0.431)}, rotate=90, anchor=center, font=\fl},
  legend columns=2,
  legend style={draw=none, fill=none, font=\fg, at={(axis description cs:0.5,-0.165)}, anchor=center,
    inner sep=0pt, row sep=0pt,
    /tikz/every even column/.append style={column sep=28pt}},
  legend cell align=left,
  legend image code/.code={\path (0pt,0pt) -- (27pt,0pt); \draw[#1] (0pt,0pt) -- (21.5pt,0pt);},
]
\addplot[cP, forget plot] table[x=x, y=P] {\tabA};
\addplot[cS, forget plot] table[x=x, y=S] {\tabA};
\addplot[cY, forget plot] table[x=x, y=Y] {\tabA};
\addplot[cX, forget plot] table[x=x, y=X] {\tabA};
\addlegendimage{color=cX, solid, line width=0.9pt}
\addlegendentry{$\si{D}_{\si{i}}^{\vec{\si{X}}}$}
\addlegendimage{color=cS, solid, line width=0.9pt}
\addlegendentry{$\si{D}_{\si{i}}^{\vec{\si{X}}}+\si{D}_{\si{i}}^{\vec{\si{Y}}}$}
\addlegendimage{color=cY, solid, line width=0.9pt}
\addlegendentry{$\si{D}_{\si{i}}^{\vec{\si{Y}}}$}
\addlegendimage{color=cP, solid, line width=0.9pt}
\addlegendentry{$\si{D}_{\si{i}}^{\text{\sffamily pair}}$}
\node[font=\fb] at (axis description cs:-0.1376,0.926) {(a)};
\node[font=\fs] at (axis description cs:0.5,0.903) {TOR scheme};
\end{axis}

\begin{axis}[myaxis, at={(0,0)}, height=170pt, ymin=1, ymax=18,
  ytick={2,5,8,11,14,17}, minor ytick={1,3,4,6,7,9,10,12,13,15,16,18},
  xticklabels={100,,300,,500,,700,,900},
  every axis y label/.style={at={(axis description cs:-0.1433,0.446)}, rotate=90, anchor=center, font=\fl},
  xlabel={block index \si{i}},
]
\addplot[cP] table[x=x, y=P] {\tabB};
\addplot[cS] table[x=x, y=S] {\tabB};
\addplot[cY] table[x=x, y=Y] {\tabB};
\addplot[cX] table[x=x, y=X] {\tabB};
\node[font=\fb] at (axis description cs:-0.1376,0.929) {(b)};
\node[font=\fs] at (axis description cs:0.5,0.897) {LAT scheme};
\end{axis}
\end{tikzpicture}
\end{document}
